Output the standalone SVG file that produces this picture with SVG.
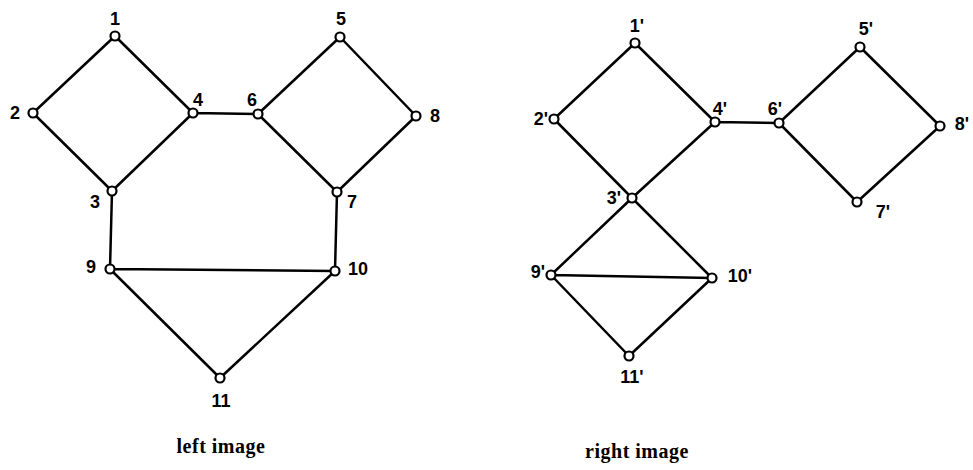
<svg xmlns="http://www.w3.org/2000/svg" width="973" height="470" viewBox="0 0 973 470">
<style>
.e{stroke:#000;stroke-width:2.5;fill:none;stroke-linecap:round}
.n{fill:#fff;stroke:#000;stroke-width:2.2}
.l{font-family:"Liberation Sans",Arial,sans-serif;font-weight:bold;font-size:18px;fill:#000;text-anchor:middle}
.c{font-family:"Liberation Serif","Times New Roman",serif;font-weight:bold;font-size:20px;fill:#000;text-anchor:middle;letter-spacing:0.5px}
</style>
<rect width="973" height="470" fill="#fff"/>
<g id="connectors">
<path class="e" d="M115,36L33,113M115,36L193,113M33,113L112,191M193,113L112,191M193,113L258,114M258,114L340,37M340,37L416,116M258,114L337,192M416,116L337,192M112,191L110,269M337,192L335,271M110,269L335,271M110,269L220,378M335,271L220,378"/>
<path class="e" d="M635,43L554,119M635,43L715,122M554,119L632,198M715,122L632,198M715,122L779,123M779,123L860,47M860,47L940,126M779,123L857,202M940,126L857,202M632,198L551,275M632,198L712,278M551,275L712,278M551,275L629,356M712,278L629,356"/>
</g>
<g id="n1"><circle class="n" cx="115" cy="36" r="4.5"/><text class="l" x="115" y="25">1</text></g>
<g id="n2"><circle class="n" cx="33" cy="113" r="4.5"/><text class="l" x="15" y="119">2</text></g>
<g id="n3"><circle class="n" cx="112" cy="191" r="4.5"/><text class="l" x="95" y="208">3</text></g>
<g id="n4"><circle class="n" cx="193" cy="113" r="4.5"/><text class="l" x="198" y="106">4</text></g>
<g id="n5"><circle class="n" cx="340" cy="37" r="4.5"/><text class="l" x="341" y="25">5</text></g>
<g id="n6"><circle class="n" cx="258" cy="114" r="4.5"/><text class="l" x="252" y="106">6</text></g>
<g id="n7"><circle class="n" cx="337" cy="192" r="4.5"/><text class="l" x="352" y="208">7</text></g>
<g id="n8"><circle class="n" cx="416" cy="116" r="4.5"/><text class="l" x="435" y="122">8</text></g>
<g id="n9"><circle class="n" cx="110" cy="269" r="4.5"/><text class="l" x="91" y="273">9</text></g>
<g id="n10"><circle class="n" cx="335" cy="271" r="4.5"/><text class="l" x="358" y="275">10</text></g>
<g id="n11"><circle class="n" cx="220" cy="378" r="4.5"/><text class="l" x="221" y="407">11</text></g>
<g id="m1"><circle class="n" cx="635" cy="43" r="4.5"/><text class="l" x="637" y="32">1'</text></g>
<g id="m2"><circle class="n" cx="554" cy="119" r="4.5"/><text class="l" x="541" y="125">2'</text></g>
<g id="m3"><circle class="n" cx="632" cy="198" r="4.5"/><text class="l" x="614" y="204">3'</text></g>
<g id="m4"><circle class="n" cx="715" cy="122" r="4.5"/><text class="l" x="720" y="115">4'</text></g>
<g id="m5"><circle class="n" cx="860" cy="47" r="4.5"/><text class="l" x="866" y="35">5'</text></g>
<g id="m6"><circle class="n" cx="779" cy="123" r="4.5"/><text class="l" x="775" y="115">6'</text></g>
<g id="m7"><circle class="n" cx="857" cy="202" r="4.5"/><text class="l" x="883" y="218">7'</text></g>
<g id="m8"><circle class="n" cx="940" cy="126" r="4.5"/><text class="l" x="962" y="130">8'</text></g>
<g id="m9"><circle class="n" cx="551" cy="275" r="4.5"/><text class="l" x="538" y="278">9'</text></g>
<g id="m10"><circle class="n" cx="712" cy="278" r="4.5"/><text class="l" x="740" y="282">10'</text></g>
<g id="m11"><circle class="n" cx="629" cy="356" r="4.5"/><text class="l" x="632" y="383">11'</text></g>
<text class="c" x="221" y="453">left image</text>
<text class="c" x="637" y="458">right image</text>
</svg>
